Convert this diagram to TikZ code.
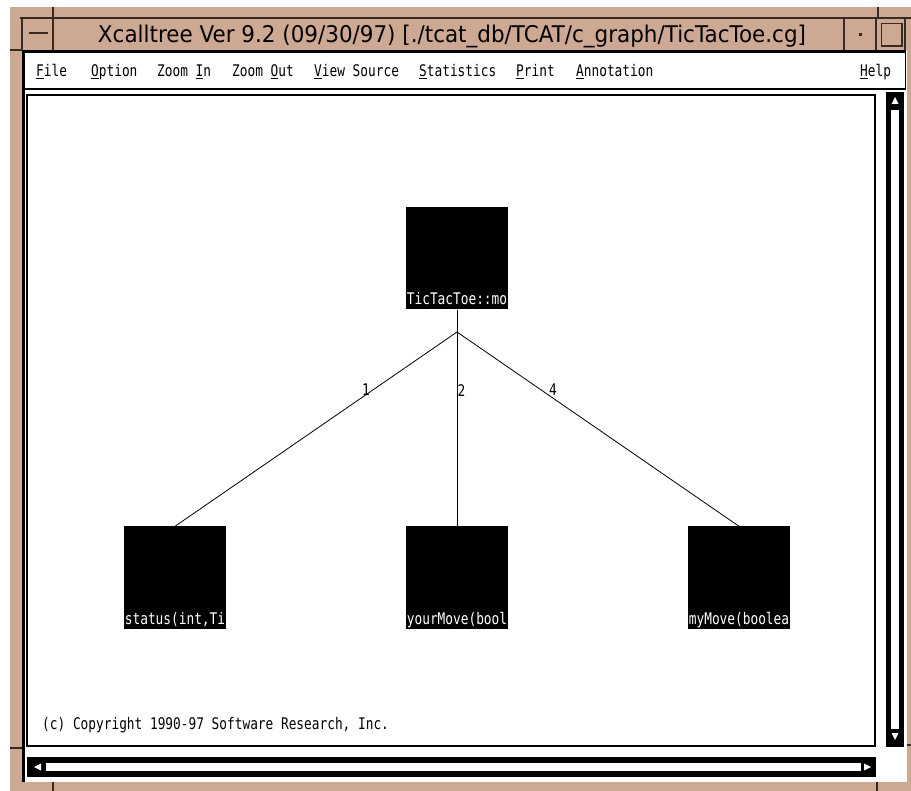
\documentclass[tikz,border=0pt]{standalone}
\usepackage{fontspec}
\usepackage{graphicx}
\newfontfamily\uifont[FakeStretch=0.8]{DejaVu Sans Mono}
\newfontfamily\titlefont{DejaVu Sans}
\definecolor{wmtan}{RGB}{205,168,146}
\definecolor{wmline}{RGB}{55,42,34}
\begin{document}
\begin{tikzpicture}[x=1pt,y=-1pt,
  frame/.style={draw=wmline, line width=1.1pt},
  ui/.style={inner sep=0pt, font=\uifont\fontsize{16}{16}\selectfont},
  menu/.style={ui, anchor=base west},
  fnode/.style={fill=black, draw=none, minimum size=102pt, inner sep=0pt},
  fname/.style={ui, text=white, anchor=base},
  call/.style={draw=black, line width=0.8pt},
  callno/.style={ui},
  arrowtip/.style={fill=white, draw=none}]
\useasboundingbox (0,0) rectangle (911,791);
\fill[white] (0,0) rectangle (911,791);
% window decoration
\fill[wmtan] (10,7) rectangle (911,791);
\draw[frame] (20,18) -- (911,18);
\draw[frame] (53,7) -- (53,18);
\draw[frame] (878,7) -- (878,18);
\draw[frame] (22,18) -- (22,50);
\draw[frame] (53,18) -- (53,50);
\draw[frame] (10,50) -- (22,50);
\draw[frame] (844,18) -- (844,50);
\draw[frame] (876,18) -- (876,50);
\draw[frame] (905,18) -- (905,50);
% window menu button, minimize and maximize buttons
\draw[wmline, line width=1.6pt] (29,33) -- (48,33);
\fill[wmline] (859,33) rectangle (862,36);
\draw[wmline, line width=0.8pt] (881,23) rectangle (902,46);
\draw[wmline, line width=1.6pt] (902,23) -- (902,46) -- (881,46);
% title
\node[inner sep=0pt] (title) at (452,36)
  {\resizebox{708pt}{\height}{\titlefont\fontsize{23}{23}\selectfont Xcalltree Ver 9.2 (09/30/97) [./tcat\_db/TCAT/c\_graph/TicTacToe.cg]}};
% client area
\fill[white] (22,50) rectangle (907,782);
\draw[black, line width=3pt] (23.5,782) -- (23.5,51.5) -- (906,51.5);
\draw[black, line width=1pt] (905.5,51) -- (905.5,89);
\draw[black, line width=2.5pt] (22,89) -- (906,89);
% menu bar
\node[menu] (mfile) at (36,77) {\underline{F}ile};
\node[menu] (mopt) at (91,77) {\underline{O}ption};
\node[menu] (mzin) at (157,77) {Zoom \underline{I}n};
\node[menu] (mzout) at (232,77) {Zoom \underline{O}ut};
\node[menu] (mview) at (314,77) {\underline{V}iew Source};
\node[menu] (mstat) at (419,77) {\underline{S}tatistics};
\node[menu] (mprint) at (516,77) {\underline{P}rint};
\node[menu] (mann) at (576,77) {\underline{A}nnotation};
\node[menu] (mhelp) at (860,77) {\underline{H}elp};
% canvas
\draw[black, line width=2pt] (27,95) rectangle (875,746);
% vertical scrollbar
\fill[black] (886,92) rectangle (904,747);
\fill[white] (891,110) rectangle (899,729);
\fill[arrowtip] (891.5,104) -- (898.5,104) -- (895,97) -- cycle;
\fill[arrowtip] (891.5,733) -- (898.5,733) -- (895,740) -- cycle;
% horizontal scrollbar
\fill[black] (27,757) rectangle (876,777);
\fill[white] (46,763) rectangle (861,771);
\fill[arrowtip] (41,763.5) -- (41,770.5) -- (34,767) -- cycle;
\fill[arrowtip] (864,763.5) -- (864,770.5) -- (871,767) -- cycle;
% lower frame ticks
\draw[frame] (53,782) -- (53,791);
\draw[frame] (877,782) -- (877,791);
\draw[frame] (10,748) -- (22,748);
\draw[frame] (907,745) -- (911,745);
% call graph
\node[fnode] (main) at (457,258.5) {};
\node[fnode] (status) at (175,577.5) {};
\node[fnode] (your) at (457,577.5) {};
\node[fnode] (my) at (739,577.5) {};
\node[fname] (mainlbl) at (457,305) {TicTacToe::mo};
\node[fname] (statuslbl) at (175,624) {status(int,Ti};
\node[fname] (yourlbl) at (457,624) {yourMove(bool};
\node[fname] (mylbl) at (739,624) {myMove(boolea};
\coordinate (fork) at (457,332);
\draw[call] (main.south) -- (fork);
\draw[call] (fork) -- (status.north);
\draw[call] (fork) -- (your.north);
\draw[call] (fork) -- (my.north);
\node[callno] (n1) at (366,390) {1};
\node[callno, anchor=west] (n2) at (457.5,391) {2};
\node[callno] (n4) at (553,390) {4};
% copyright notice
\node[menu] (copy) at (42,729) {(c) Copyright 1990-97 Software Research, Inc.};
\end{tikzpicture}
\end{document}
